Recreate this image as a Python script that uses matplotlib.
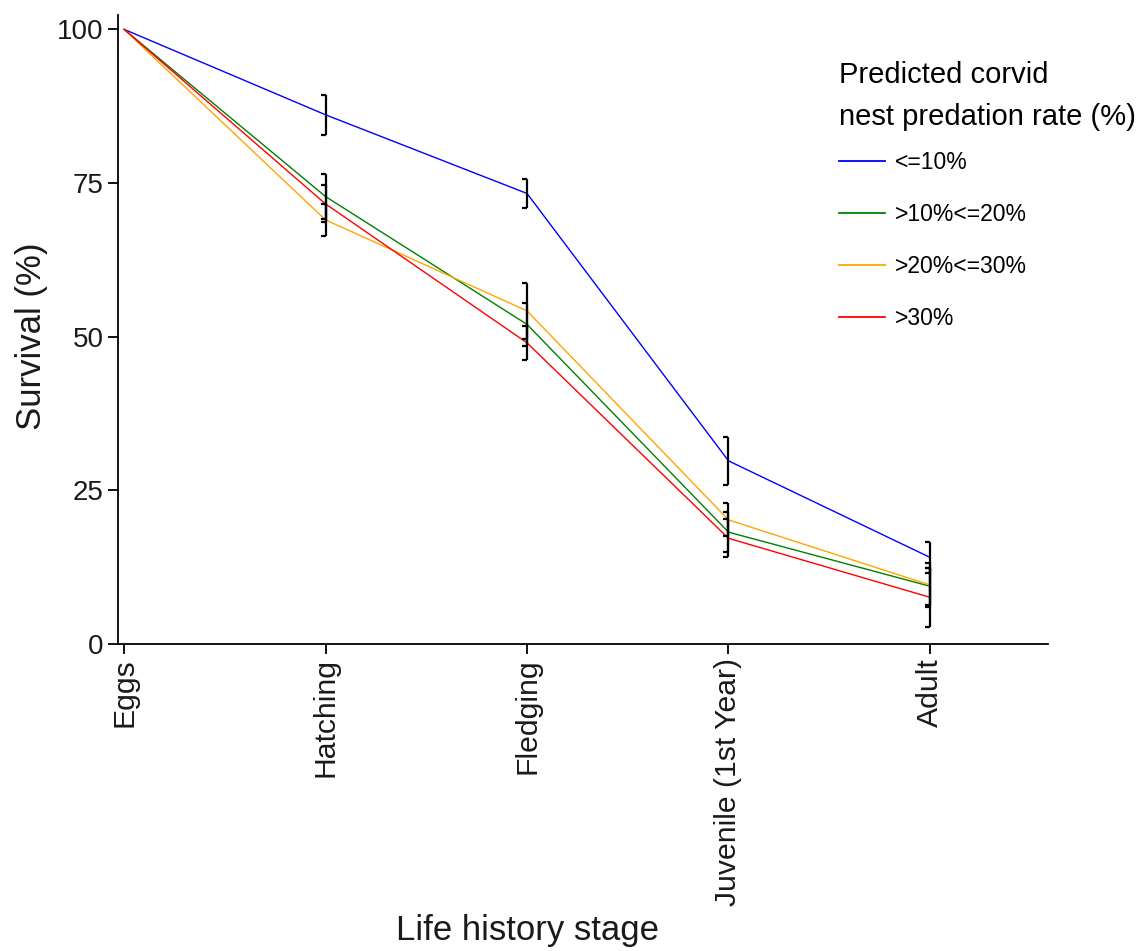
import numpy as np
import matplotlib.pyplot as plt

plt.rcParams['font.family'] = ['Liberation Sans', 'DejaVu Sans']

# life history stages
stages = ['Eggs', 'Hatching', 'Fledging', 'Juvenile (1st Year)', 'Adult']

# predicted survival (%) by corvid nest predation class
surv_le10 = [100, 86.1, 73.3, 29.8, 14.1]
surv_10_20 = [100, 72.8, 52.0, 18.2, 9.4]
surv_20_30 = [100, 69.0, 54.2, 20.2, 9.6]
surv_gt30 = [100, 71.6, 49.0, 17.2, 7.6]

# +/- error for each stage (none at eggs)
err_le10 = [0, 3.3, 2.4, 3.9, 2.5]
err_10_20 = [0, 3.6, 3.5, 3.2, 3.0]
err_20_30 = [0, 2.6, 4.5, 2.7, 3.5]
err_gt30 = [0, 3.0, 2.8, 3.1, 4.8]

labels = ['<=10%', '>10%<=20%', '>20%<=30%', '>30%']
colors = ['blue', 'green', 'orange', 'red']
series = [surv_le10, surv_10_20, surv_20_30, surv_gt30]
errors = [err_le10, err_10_20, err_20_30, err_gt30]

x = np.arange(len(stages))

fig = plt.figure(figsize=(11.47, 9.51), dpi=100)
ax = fig.add_axes([0.1029, 0.3228, 0.8108, 0.6612])

for y, e, c, lab in zip(series, errors, colors, labels):
    y = np.array(y)
    e = np.array(e)
    ax.plot(x, y, color=c, linewidth=1.0, label=lab)
    # error bars with caps on the left side only
    for xi, yi, ei in zip(x[1:], y[1:], e[1:]):
        ax.vlines(xi, yi - ei, yi + ei, color='black', linewidth=1.6, zorder=3)
        ax.hlines([yi - ei, yi + ei], xi - 0.025, xi, color='black',
                  linewidth=1.6, zorder=3)

ax.set_xlim(-0.03, 4.586)
ax.set_ylim(0, 102.3)
ax.set_yticks([0, 25, 50, 75, 100])
ax.set_xticks(x)
ax.set_xticklabels(stages, rotation=90, va='top', ha='center')

for side in ['top', 'right']:
    ax.spines[side].set_visible(False)
for side in ['left', 'bottom']:
    ax.spines[side].set_linewidth(1.3)
ax.tick_params(axis='both', length=7, width=1.3, color='black',
               labelcolor='#1a1a1a')
ax.tick_params(axis='y', labelsize=20)
ax.tick_params(axis='x', labelsize=21.7, pad=3)

ax.set_xlabel('Life history stage', fontsize=25, color='#1a1a1a')
ax.set_ylabel('Survival (%)', fontsize=25, color='#1a1a1a')
ax.xaxis.set_label_coords(0.44, -0.43)
ax.yaxis.set_label_coords(-0.075, 0.49)

leg = ax.legend(loc='upper left', bbox_to_anchor=(0.7315, 0.936),
                bbox_transform=fig.transFigure, frameon=False,
                title='Predicted corvid\nnest predation rate (%)',
                title_fontsize=21, fontsize=16.5, handlelength=2.0,
                handletextpad=0.45, labelspacing=1.27, alignment='left',
                borderaxespad=0, borderpad=0)
leg.get_title().set_linespacing(1.65)
leg._legend_box.sep = 14.0  # tighter gap under the title
for line in leg.get_lines():
    line.set_linewidth(1.3)

fig.savefig('out.png', dpi=100)
